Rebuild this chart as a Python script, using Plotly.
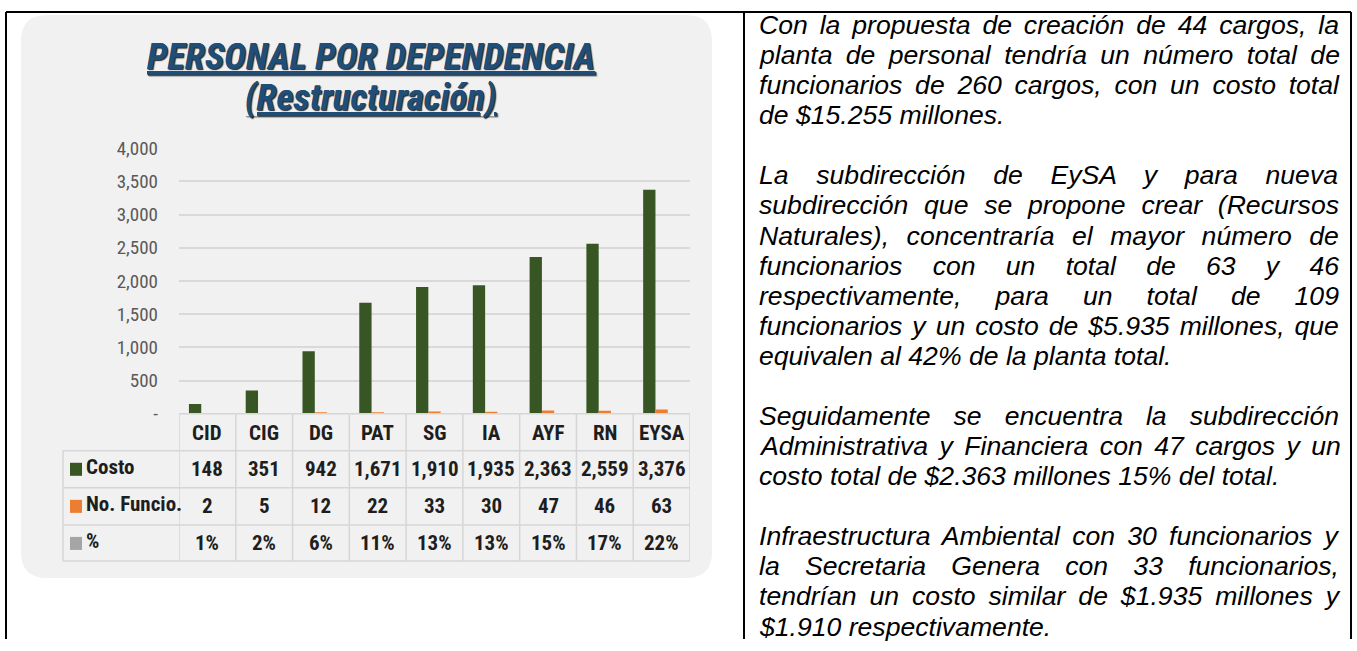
import plotly.graph_objects as go

# ---------------- data ----------------
categories = ["CID", "CIG", "DG", "PAT", "SG", "IA", "AYF", "RN", "EYSA"]
costo = [148, 351, 942, 1671, 1910, 1935, 2363, 2559, 3376]
funcionarios = [2, 5, 12, 22, 33, 30, 47, 46, 63]
porcentaje = [0.01, 0.02, 0.06, 0.11, 0.13, 0.13, 0.15, 0.17, 0.22]
series_names = ["Costo", "No. Funcio.", "%"]
y_tickvals = [0, 500, 1000, 1500, 2000, 2500, 3000, 3500, 4000]
y_ticktext = ["-", "500", "1,000", "1,500", "2,000", "2,500", "3,000", "3,500", "4,000"]
title_line1 = "PERSONAL POR DEPENDENCIA"
title_line2 = "(Restructuración)"
paragraphs = [
    ["Con la propuesta de creación de 44 cargos, la",
     "planta de personal tendría un número total de",
     "funcionarios de 260 cargos, con un costo total",
     "de $15.255 millones."],
    ["La subdirección de EySA y para nueva",
     "subdirección que se propone crear (Recursos",
     "Naturales), concentraría el mayor número de",
     "funcionarios con un total de 63 y 46",
     "respectivamente, para un total de 109",
     "funcionarios y un costo de $5.935 millones, que",
     "equivalen al 42% de la planta total."],
    ["Seguidamente se encuentra la subdirección",
     "Administrativa y Financiera con 47 cargos y un",
     "costo total de $2.363 millones 15% del total."],
    ["Infraestructura Ambiental con 30 funcionarios y",
     "la Secretaria Genera con 33 funcionarios,",
     "tendrían un costo similar de $1.935 millones y",
     "$1.910 respectivamente."],
]

# ---------------- styling ----------------
W, H = 1357, 651
GREEN, ORANGE, GREY = "#375623", "#ED7D31", "#A5A5A5"
PANEL = "#F1F1F1"
CELL_LINE = "#D6D6D6"
NARROW = "Roboto Condensed, Liberation Sans Narrow, Roboto, sans-serif"
BODY = "Liberation Sans, Arial, sans-serif"

# the photographed page is shown in rows ~11..638 of the picture
V_OFF, V_SCALE = 11.0, 0.963


def xp(px):
    return px / W


def yp(ref_y):
    """reference-picture row -> paper fraction"""
    fy = (ref_y - V_OFF) / V_SCALE
    fy = min(max(fy, 0.0), H)
    return 1 - fy / H


AW = {" ": 278, "$": 556, "%": 889, "(": 333, ")": 333, ",": 278, ".": 278, "-": 333}
for ch in "0123456789":
    AW[ch] = 556
AW.update(dict(A=667, B=667, C=722, D=722, E=667, F=611, G=778, H=722, I=278, J=500,
               K=667, L=556, M=833, N=722, O=778, P=667, Q=778, R=722, S=667, T=611,
               U=722, V=667, W=944, X=667, Y=667, Z=611))
AW.update(dict(a=556, b=556, c=500, d=556, e=556, f=278, g=556, h=556, i=222, j=222,
               k=500, l=222, m=833, n=556, o=556, p=556, q=556, r=333, s=500, t=278,
               u=556, v=500, w=722, x=500, y=500, z=500))
AW.update({"á": 556, "é": 556, "í": 278, "ó": 556, "ú": 556, "ñ": 556})

fig = go.Figure()

for name, vals, col in zip(series_names, [costo, funcionarios, porcentaje], [GREEN, ORANGE, GREY]):
    fig.add_trace(go.Bar(x=categories, y=vals, name=name, marker=dict(color=col, line=dict(width=0)),
                         showlegend=False, hoverinfo="x+y+name"))

shapes = []
annotations = []

# rounded grey panel
x0, x1, y0, y1, r = 21, 712, 15, 577, 26
pts = (f"M {xp(x0 + r)},{yp(y0)} L {xp(x1 - r)},{yp(y0)} Q {xp(x1)},{yp(y0)} {xp(x1)},{yp(y0 + r)} "
       f"L {xp(x1)},{yp(y1 - r)} Q {xp(x1)},{yp(y1)} {xp(x1 - r)},{yp(y1)} "
       f"L {xp(x0 + r)},{yp(y1)} Q {xp(x0)},{yp(y1)} {xp(x0)},{yp(y1 - r)} "
       f"L {xp(x0)},{yp(y0 + r)} Q {xp(x0)},{yp(y0)} {xp(x0 + r)},{yp(y0)} Z")
shapes.append(dict(type="path", xref="paper", yref="paper", path=pts, fillcolor=PANEL,
                   line=dict(width=0), layer="below"))

# page table borders (black)
TB = 12
for (ax0, ay0, ax1, ay1) in [(6, TB, 1351, TB), (6, TB, 6, 651), (744, TB, 744, 651), (1351, TB, 1351, 651)]:
    shapes.append(dict(type="line", xref="paper", yref="paper", x0=xp(ax0), y0=yp(ay0),
                       x1=xp(ax1), y1=yp(ay1), line=dict(color="#000000", width=2)))

# data table under the chart
TOP, ROWS = 413, [450, 487, 524, 560]
LEFT = 63
n = len(categories)
shapes.append(dict(type="line", xref="x", yref="paper", x0=-0.5, x1=n - 0.5, y0=yp(TOP), y1=yp(TOP),
                   line=dict(color=CELL_LINE, width=1.5)))
for ry in ROWS:
    shapes.append(dict(type="line", xref="paper", yref="paper", x0=xp(LEFT), x1=xp(690), y0=yp(ry), y1=yp(ry),
                       line=dict(color=CELL_LINE, width=1.5)))
for k in range(n + 1):
    shapes.append(dict(type="line", xref="x", yref="paper", x0=k - 0.5, x1=k - 0.5, y0=yp(TOP), y1=yp(ROWS[-1]),
                       line=dict(color=CELL_LINE, width=1.5)))
shapes.append(dict(type="line", xref="paper", yref="paper", x0=xp(LEFT), x1=xp(LEFT), y0=yp(ROWS[0]),
                   y1=yp(ROWS[-1]), line=dict(color=CELL_LINE, width=1.5)))

cell_font = dict(family=NARROW, size=21, color="#1E1E1E", weight="bold")
row_text = [
    [f"{v:,}" for v in costo],
    [str(v) for v in funcionarios],
    [f"{round(v * 100)}%" for v in porcentaje],
]
row_centers = [468, 505, 542]
for cat in categories:
    annotations.append(dict(x=cat, y=yp(432), xref="x", yref="paper", text=cat, showarrow=False,
                            font=cell_font, xanchor="center", yanchor="middle"))
for texts, cy in zip(row_text, row_centers):
    for cat, t in zip(categories, texts):
        annotations.append(dict(x=cat, y=yp(cy), xref="x", yref="paper", text=t, showarrow=False,
                                font=cell_font, xanchor="center", yanchor="middle"))
for name, col, cy in zip(series_names, [GREEN, ORANGE, GREY], row_centers):
    shapes.append(dict(type="rect", xref="paper", yref="paper", x0=xp(70), x1=xp(82),
                       y0=yp(cy - 6), y1=yp(cy + 7), fillcolor=col, line=dict(width=0)))
    annotations.append(dict(x=xp(84), y=yp(cy - 2), xref="paper", yref="paper", text=name, showarrow=False,
                            font=cell_font, xanchor="left", yanchor="middle"))

# title
title_font = dict(family=NARROW, size=37, color="#1F4E79", weight="bold", style="italic",
                  shadow="1px 1px 1px rgba(0,0,0,0.55)")
annotations.append(dict(x=xp(371), y=yp(56), xref="paper", yref="paper", text=f"<u>{title_line1}</u>",
                        showarrow=False, font=title_font, xanchor="center", yanchor="middle"))
annotations.append(dict(x=xp(371), y=yp(97), xref="paper", yref="paper", text=f"<u>{title_line2}</u>",
                        showarrow=False, font=title_font, xanchor="center", yanchor="middle"))

# right-hand justified text column
FS = 26.6
TX0, TX1 = 757, 1337
FIRST, LAST = 25.0, 625.5
total_slots = sum(len(p) for p in paragraphs) + len(paragraphs) - 1
PITCH = (LAST - FIRST) / (total_slots - 1)
slot = 0
for para in paragraphs:
    for li, line in enumerate(para):
        cy = FIRST + PITCH * slot
        last = li == len(para) - 1
        spaces = line.count(" ")
        if not last and spaces > 0:
            natural = sum(AW.get(ch, 556) for ch in line) / 1000 * FS
            extra = (TX1 - TX0 - natural) / spaces
            txt = f'<span style="word-spacing:{extra:.2f}px">{line}</span>'
        else:
            txt = line
        annotations.append(dict(x=xp(TX0), y=yp(cy), xref="paper", yref="paper", text=txt, showarrow=False,
                                font=dict(family=BODY, size=FS, color="#000000", style="italic"),
                                xanchor="left", yanchor="middle"))
        slot += 1
    slot += 1

fig.update_layout(
    width=W, height=H,
    margin=dict(l=0, r=0, t=0, b=0),
    paper_bgcolor="#FFFFFF",
    plot_bgcolor="rgba(0,0,0,0)",
    barmode="group",
    bargap=0.35,
    bargroupgap=0,
    shapes=shapes,
    annotations=annotations,
    xaxis=dict(domain=[xp(179), xp(690)], type="category", categoryorder="array", categoryarray=categories,
               range=[-0.5, n - 0.5], showticklabels=False, showgrid=False, zeroline=False, showline=False,
               ticks="", fixedrange=True),
    yaxis=dict(domain=[yp(TOP), yp(148)], range=[0, 4000], tickvals=y_tickvals, ticktext=y_ticktext,
               showgrid=True, gridcolor="#D9D9D9", gridwidth=1.5, zeroline=False, showline=False,
               ticks="", ticklabelstandoff=20,
               tickfont=dict(family=NARROW, size=19, color="#595959"), fixedrange=True),
    hovermode="closest",
)

fig.write_html("out.html", config={"displayModeBar": False},
               post_script=("document.documentElement.style.margin='0';document.body.style.margin='0';"
                            "document.body.style.padding='0';"
                            "var gd=document.querySelector('.plotly-graph-div');gd.style.position='absolute';"
                            "gd.style.top='0px';gd.style.left='0px';"))
